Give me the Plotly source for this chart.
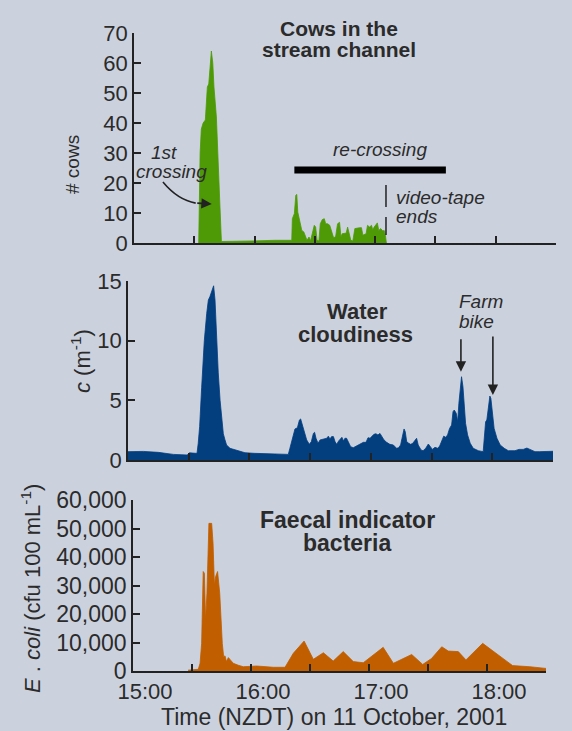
import plotly.graph_objects as go

# ---------------- data (time in minutes after 15:00 NZDT) ----------------
COW_MIN = [32.2, 32.9, 33.5, 34.4, 35.5, 36.0, 36.5, 37.2, 37.8, 38.5,
           39.2, 39.8, 41.0, 41.8, 42.6, 43.5, 50, 60, 70, 74.9,
           78.5, 78.8, 79.8, 80.5, 81.0, 81.5, 82.1, 82.8, 83.5, 84.5,
           85.1, 86.1, 87.1, 87.8, 88.7, 89.7, 90.4, 91.1, 92.0, 92.7,
           93.7, 94.7, 95.4, 96.4, 97.4, 98.3, 99.3, 100.3, 101.3, 102.3,
           103.0, 103.6, 104.6, 105.6, 106.3, 107.2, 107.9, 108.9, 109.9, 112.3,
           113.2, 113.9, 114.5, 115.5, 116.2, 117.2, 118.2, 118.8, 119.5, 120.5,
           121.1, 121.8, 122.8, 123.8, 124.5, 125.1, 125.6]
COW_N = [0, 30, 38, 40, 41, 48, 52, 53, 60, 64,
         60, 52, 42, 31, 15, 0.5, 0.5, 0.7, 0.9, 0.9,
         0.9, 8.1, 9.8, 15.9, 16.2, 10.3, 8.7, 7, 4.2, 3.7,
         2.6, 0.9, 2, 0.7, 3.1, 5.9, 5.3, 0.9, 0.7, 6.4,
         7.8, 8.1, 6.4, 6.4, 5.9, 3.7, 1.8, 2, 6.4, 6.9,
         2, 3.1, 3.1, 3.3, 5.3, 2.6, 0.9, 0.7, 4.8, 5.1,
         5.1, 2.6, 2.9, 3.1, 5.9, 5.3, 5.9, 4.4, 5.3, 6.4,
         6.7, 4.2, 4.8, 4.0, 4.2, 2.6, 0]

WAT_MIN = [0, 7.6, 15, 22.4, 29.3, 30.3, 33.6,
           34.1, 34.7, 35.4, 36.4, 36.7, 37.7, 38.9, 39.7, 40.5, 41.3,
           42.3, 43.0, 43.8, 44.6, 45.5, 46.3, 47.1, 47.9, 48.7, 50.4,
           52.9, 55.3, 57.8, 62.3, 73.9, 79.2,
           80.0, 81.4, 82.5, 83.7, 84.7, 85.3, 86.0, 87.0, 88.3, 89.6,
           90.6, 91.6, 92.2, 92.9, 93.9, 94.9, 96.5, 98.2, 99.0, 99.8,
           100.6, 101.5, 102.3, 103.1, 104.1, 105.1, 105.7, 106.4, 107.2, 108.0,
           109.0, 110.0, 111.3, 113.0, 114.6, 116.3, 117.6, 118.6, 119.6, 120.5,
           121.5, 122.5, 123.5, 124.5, 125.5, 126.5, 127.8, 129.4, 131.1, 132.7,
           133.7, 134.7, 135.4, 136.4, 137.0, 137.7, 138.7, 139.7, 140.7,
           141.8, 142.6, 143.4, 144.8, 145.8, 147.1, 148.4, 149.2, 150.4, 151.7,
           153.0, 154.0, 155.0, 156.0, 157.0, 157.9, 158.9, 159.9, 160.6, 161.2,
           162.2, 162.9, 163.5, 164.2, 164.8, 165.5, 166.2, 166.8, 167.8, 169.1,
           170.6, 173.1, 175.5, 176.0, 176.7, 177.3, 178.0, 178.8, 179.3, 180.0,
           180.9, 182.3, 183.9, 185.9, 187.9, 191.2, 193.2, 195.3, 197.1, 198.6,
           201.1, 203.5, 206.8, 210]
WAT_C = [0.7, 0.72, 0.64, 0.47, 0.42, 0.6, 0.56,
         0.56, 1.4, 2.8, 6.1, 7.3, 10, 12.3, 13.4, 13.7, 14.1,
         14.6, 13.4, 10, 7.3, 5.0, 3.6, 2.2, 1.7, 1.26, 0.98,
         0.84, 0.7, 0.61, 0.56, 0.5, 0.47,
         0.98, 1.96, 2.6, 2.7, 3.35, 3.44, 3.07, 2.37, 1.68, 1.31,
         1.54, 2.23, 2.32, 1.82, 1.4, 1.68, 1.76, 1.82, 2.0, 1.76,
         1.96, 1.96, 1.54, 1.31, 1.6, 1.82, 1.9, 1.6, 1.82, 1.82,
         1.4, 1.12, 1.03, 1.2, 1.31, 1.48, 1.48, 1.87, 1.82, 1.96,
         2.15, 2.2, 2.1, 2.23, 1.96, 1.68, 1.48, 1.31, 1.26, 0.98,
         1.03, 1.26, 1.82, 2.6, 2.37, 1.54, 1.4, 1.31, 1.4,
         1.68, 1.82, 1.26, 0.84, 0.78, 0.98, 1.34, 1.17, 0.89, 1.06,
         0.98, 1.17, 1.54, 2.0, 1.9, 2.1, 2.65, 2.93, 4.05, 4.19,
         3.91, 3.2, 4.75, 6.15, 6.98, 6.15, 4.47, 3.07, 2.1, 1.4,
         0.98, 0.78, 0.7, 1.68, 3.2, 3.35, 4.19, 5.36, 5.17, 3.91,
         2.65, 1.82, 1.26, 0.98, 0.78, 0.78, 0.89, 0.89, 1.0, 0.89,
         0.7, 0.7, 0.73, 0.73]

ECO_MIN = [28, 33.2, 34.1, 34.9, 35.7, 36.3, 36.9, 37.6, 38.6, 40.0,
           40.7, 41.4, 42.0, 43.0, 44.1, 44.7, 45.4, 46.1, 46.8, 47.5,
           48.5, 49.5, 51.0, 53.6, 56.1, 62.9, 68.0, 71.4, 77.3, 81.5,
           87.0, 91.7, 96.8, 101.8, 106.9, 112.0, 117.1, 127.2, 132.4, 141.7,
           147.3, 151.8, 157.0, 160.3, 165.4, 169.3, 177.8, 184.9, 193.0, 201.8,
           210.0]
ECO_CFU = [300, 600, 2700, 9700, 34900, 34300, 17900, 27300, 51800, 51800,
           44800, 30200, 33100, 34900, 27300, 17900, 9700, 5000, 5300, 3300,
           4700, 3900, 2700, 2000, 1500, 1750, 1500, 1300, 1300, 6200,
           10500, 4100, 6400, 3500, 6800, 3300, 2900, 8300, 2700, 5800,
           2300, 4400, 8500, 7000, 6800, 3900, 9700, 6000, 1900, 1500,
           900]

X_TICKS = [0, 30, 60, 90, 120, 150, 180]
X_TICKTEXT = ["15:00", "", "16:00", "", "17:00", "", "18:00"]
X_TICKS_MID = [30, 60, 90, 120, 150, 180, 210]
COW_TICKS = [0, 10, 20, 30, 40, 50, 60, 70]
C_TICKS = [0, 5, 10, 15]
ECO_TICKS = [0, 10000, 20000, 30000, 40000, 50000, 60000]

assert len(COW_MIN) == len(COW_N)
assert len(WAT_MIN) == len(WAT_C)
assert len(ECO_MIN) == len(ECO_CFU)

# ---------------- style ----------------
W, H = 572, 731
BG = "#CBD2DE"
GREEN = "#4E9A06"
BLUE = "#033E7F"
ORANGE = "#C05E00"
INK = "#222222"
TXT = "#2B2B2B"
FONT = "Liberation Sans"


def px(x):
    return x / W


def py(y):
    return 1 - y / H


fig = go.Figure()
fig.add_trace(go.Scatter(x=COW_MIN, y=COW_N, mode="lines", fill="tozeroy",
                         line=dict(color=GREEN, width=0.8), fillcolor=GREEN,
                         xaxis="x", yaxis="y", hoverinfo="skip"))
fig.add_trace(go.Scatter(x=WAT_MIN, y=WAT_C, mode="lines", fill="tozeroy",
                         line=dict(color=BLUE, width=0.8), fillcolor=BLUE,
                         xaxis="x2", yaxis="y2", hoverinfo="skip"))
fig.add_trace(go.Scatter(x=ECO_MIN, y=ECO_CFU, mode="lines", fill="tozeroy",
                         line=dict(color=ORANGE, width=0.8), fillcolor=ORANGE,
                         xaxis="x3", yaxis="y3", hoverinfo="skip"))

axis_common = dict(showline=True, linecolor=INK, linewidth=1.6, ticks="inside",
                   ticklen=7, tickwidth=1.5, tickcolor=INK, showgrid=False,
                   zeroline=False, fixedrange=True, automargin=False,
                   tickfont=dict(family=FONT, size=22, color=TXT))

fig.update_layout(
    width=W, height=H, autosize=False,
    margin=dict(l=0, r=0, t=0, b=0, pad=0, autoexpand=False),
    paper_bgcolor=BG, plot_bgcolor=BG,
    showlegend=False,
    xaxis=dict(axis_common, domain=[px(134), px(556)], range=[0, 210], anchor="y",
               tickvals=X_TICKS[1:], showticklabels=False),
    yaxis=dict(axis_common, domain=[py(243), py(33)], range=[0, 70], anchor="x",
               tickvals=COW_TICKS),
    xaxis2=dict(axis_common, domain=[px(128), px(553)], range=[0, 210], anchor="y2",
                tickvals=X_TICKS_MID, showticklabels=False),
    yaxis2=dict(axis_common, domain=[py(460), py(281)], range=[0, 15], anchor="x2",
                tickvals=C_TICKS),
    xaxis3=dict(axis_common, domain=[px(133), px(546)], range=[0, 210], anchor="y3",
                tickvals=X_TICKS, ticktext=X_TICKTEXT, ticklabelshift=12),
    yaxis3=dict(axis_common, domain=[py(671), py(500)], range=[0, 60000], anchor="x3",
                tickvals=ECO_TICKS, tickformat=",d",
                tickfont=dict(family=FONT, size=23, color=TXT)),
)

ann = []


def text(x, y, s, size, bold=False, italic=False, xanchor="center", angle=0):
    if bold:
        s = "<b>" + s + "</b>"
    if italic:
        s = "<i>" + s + "</i>"
    ann.append(dict(x=px(x), y=py(y), xref="paper", yref="paper", text=s,
                    showarrow=False, xanchor=xanchor, yanchor="middle",
                    textangle=angle,
                    font=dict(family=FONT, size=size, color=TXT)))


# panel titles
text(339, 28, "Cows in the", 21, bold=True)
text(339, 49, "stream channel", 21, bold=True)
text(357, 311, "Water", 22, bold=True)
text(355, 335, "cloudiness", 22, bold=True)
text(347, 520, "Faecal indicator", 23, bold=True)
text(347, 543, "bacteria", 23, bold=True)

# italic notes
text(164, 152, "1st", 19, italic=True)
text(171, 171, "crossing", 19, italic=True)
text(380, 149, "re-crossing", 19, italic=True)
text(394, 197, "video-tape", 19, italic=True, xanchor="left")
text(394, 216, "ends", 19, italic=True, xanchor="left")
text(457, 301, "Farm", 19, italic=True, xanchor="left")
text(457, 321, "bike", 19, italic=True, xanchor="left")

# axis titles
text(72, 165, "# cows", 19, angle=-90)
text(81, 361, "<i>c</i> (m<sup>-1</sup>)", 22, angle=-90)
text(31, 589, "<i>E</i> . <i>coli</i> (cfu 100 mL<sup>-1</sup>)", 22, angle=-90)
text(334, 717, "Time (NZDT) on 11 October, 2001", 23)

# arrows
ann.append(dict(x=38.7, y=13.0, xref="x", yref="y", ax=-16, ay=-1, text="",
                showarrow=True, arrowhead=2, arrowsize=1.3, arrowwidth=1.6,
                arrowcolor=INK))
ann.append(dict(x=164.5, y=7.4, xref="x2", yref="y2", ax=0, ay=-34, text="",
                showarrow=True, arrowhead=2, arrowsize=1.3, arrowwidth=1.6,
                arrowcolor=INK))
ann.append(dict(x=180.3, y=5.45, xref="x2", yref="y2", ax=0, ay=-60, text="",
                showarrow=True, arrowhead=2, arrowsize=1.3, arrowwidth=1.6,
                arrowcolor=INK))
fig.update_layout(annotations=ann)

shapes = [
    # re-crossing bar
    dict(type="line", xref="x", yref="y", x0=79.8, x1=155.2, y0=24.3, y1=24.3,
         line=dict(color="black", width=7)),
    # video-tape end marks
    dict(type="line", xref="x", yref="y", x0=125.4, x1=125.4, y0=19.3, y1=12.0,
         line=dict(color=INK, width=1.5)),
    dict(type="line", xref="x", yref="y", x0=125.4, x1=125.4, y0=8.7, y1=2.7,
         line=dict(color=INK, width=1.5)),
    # curved arrow shaft for 1st crossing
    dict(type="path", xref="x", yref="y",
         path="M 14.4,20.3 Q 21.8,14.3 30.7,13.3",
         line=dict(color=INK, width=1.6)),
]
fig.update_layout(shapes=shapes)

fig.write_html("out.html", config={"responsive": False, "displayModeBar": False},
               post_script="document.body.style.margin='0';document.body.style.background='%s';" % BG)
